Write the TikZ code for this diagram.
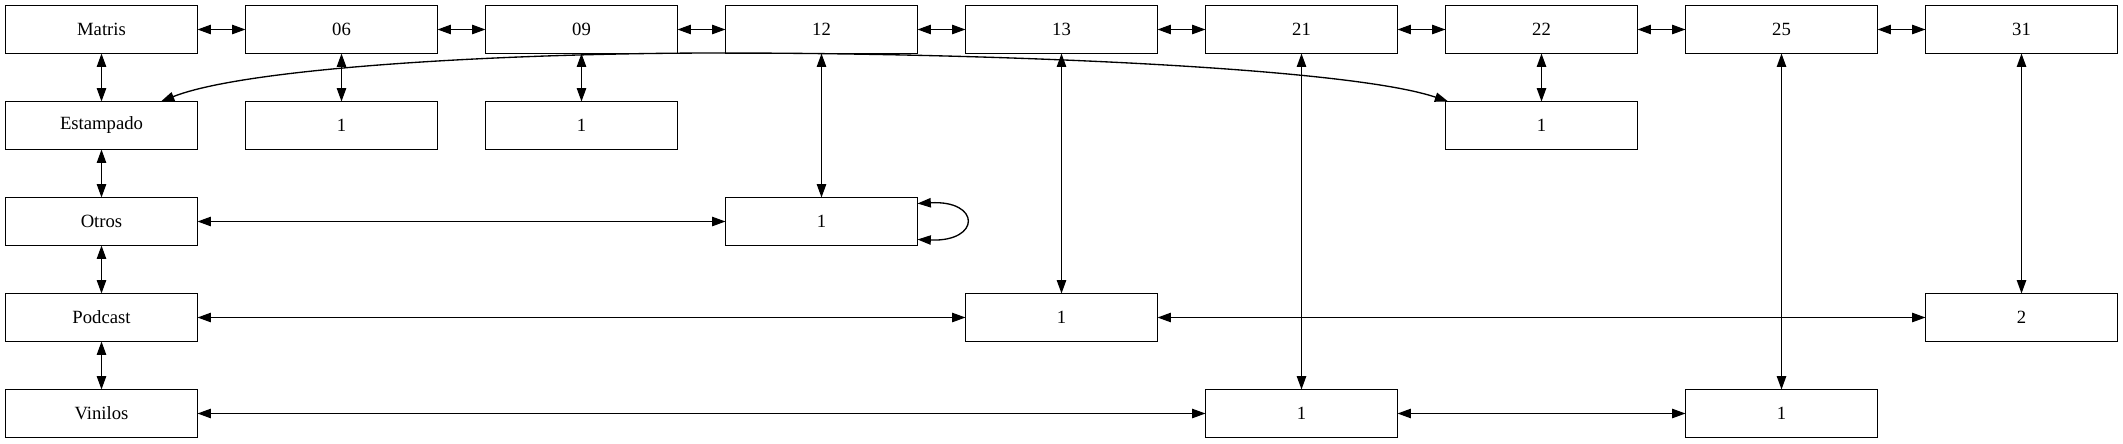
\documentclass[tikz,border=0pt]{standalone}
\usepackage{fontspec}
\setmainfont{Liberation Serif}
\usetikzlibrary{arrows.meta}
\tikzset{
  box/.style={draw, line width=1pt, minimum width=144pt, minimum height=36pt, inner sep=0pt, outer sep=0pt, font=\fontsize{14pt}{16pt}\selectfont},
  biarr/.style={line width=1pt, {Triangle[length=10pt,width=7pt]}-{Triangle[length=10pt,width=7pt]}}
}
\begin{document}
\begin{tikzpicture}[x=0.75pt, y=-0.75pt]
\useasboundingbox (0,0) rectangle (2123,443);
% row 0
\node[box] (matris) at (101.5,29.5) {Matris};
\node[box] (c06) at (341.5,29.5) {06};
\node[box] (c09) at (581.5,29.5) {09};
\node[box] (c12) at (821.5,29.5) {12};
\node[box] (c13) at (1061.5,29.5) {13};
\node[box] (c21) at (1301.5,29.5) {21};
\node[box] (c22) at (1541.5,29.5) {22};
\node[box] (c25) at (1781.5,29.5) {25};
\node[box] (c31) at (2021.5,29.5) {31};
% row 1
\node[box] (est) at (101.5,125.5) {Estampado};
\node[box] (a06) at (341.5,125.5) {1};
\node[box] (a09) at (581.5,125.5) {1};
\node[box] (a22) at (1541.5,125.5) {1};
% row 2
\node[box] (otros) at (101.5,221.5) {Otros};
\node[box] (a12) at (821.5,221.5) {1};
% row 3
\node[box] (podcast) at (101.5,317.5) {Podcast};
\node[box] (a13) at (1061.5,317.5) {1};
\node[box] (a31) at (2021.5,317.5) {2};
% row 4
\node[box] (vinilos) at (101.5,413.5) {Vinilos};
\node[box] (a21) at (1301.5,413.5) {1};
\node[box] (a25) at (1781.5,413.5) {1};
% top row chain
\draw[biarr] (matris) -- (c06);
\draw[biarr] (c06) -- (c09);
\draw[biarr] (c09) -- (c12);
\draw[biarr] (c12) -- (c13);
\draw[biarr] (c13) -- (c21);
\draw[biarr] (c21) -- (c22);
\draw[biarr] (c22) -- (c25);
\draw[biarr] (c25) -- (c31);
% left column chain
\draw[biarr] (matris) -- (est);
\draw[biarr] (est) -- (otros);
\draw[biarr] (otros) -- (podcast);
\draw[biarr] (podcast) -- (vinilos);
% verticals
\draw[biarr] (c06) -- (a06);
\draw[biarr] (c09) -- (a09);
\draw[biarr] (c22) -- (a22);
\draw[biarr] (c12) -- (a12);
\draw[biarr] (c13) -- (a13);
\draw[biarr] (c21) -- (a21);
\draw[biarr] (c25) -- (a25);
\draw[biarr] (c31) -- (a31);
% horizontals
\draw[biarr] (otros) -- (a12);
\draw[biarr] (podcast) -- (a13);
\draw[biarr] (a13) -- (a31);
\draw[biarr] (vinilos) -- (a21);
\draw[biarr] (a21) -- (a25);
% self loop
\draw[biarr] ([yshift=13.5pt]a12.east) .. controls (981,200) and (981,242) .. ([yshift=-13.5pt]a12.east);
% long curve
\draw[biarr] ([xshift=44.6pt]est.north) .. controls (245,68) and (500,53) .. (720,53)
  .. controls (1000,53) and (1350,68) .. ([xshift=2pt]a22.north west);
\end{tikzpicture}
\end{document}
